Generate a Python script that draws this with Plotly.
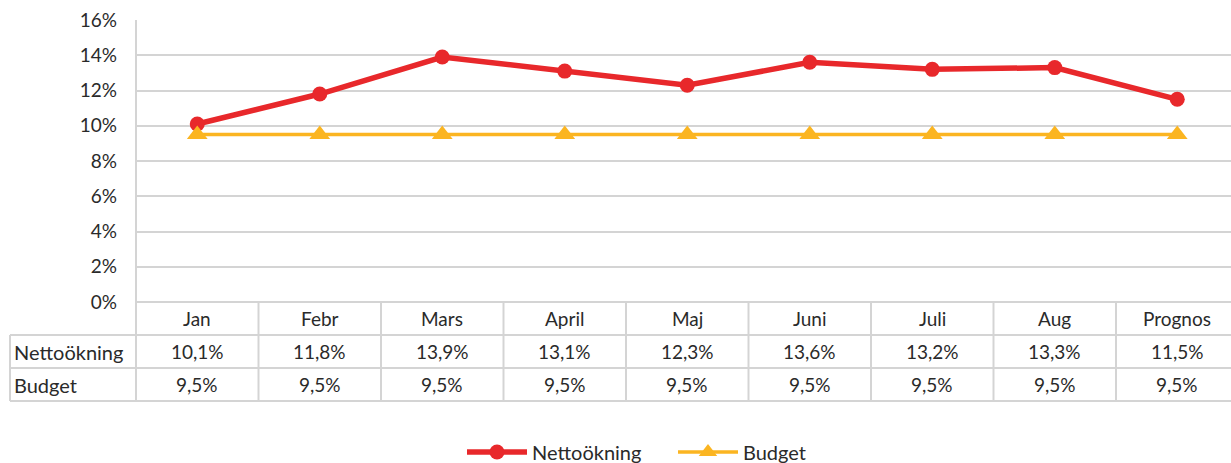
import plotly.graph_objects as go

categories = ["Jan", "Febr", "Mars", "April", "Maj", "Juni", "Juli", "Aug", "Prognos"]
netto = [10.1, 11.8, 13.9, 13.1, 12.3, 13.6, 13.2, 13.3, 11.5]
budget = [9.5, 9.5, 9.5, 9.5, 9.5, 9.5, 9.5, 9.5, 9.5]
y_ticks = [0, 2, 4, 6, 8, 10, 12, 14, 16]
series_names = ["Nettoökning", "Budget"]

W, H = 1231, 463
ML, MR, MT, MB = 136, 0, 20, 161
plot_w = W - ML - MR
plot_h = H - MT - MB
band = 122.5  # px per category
x_range = [-0.5, -0.5 + plot_w / band]

RED = "#e8282b"
YEL = "#fbb521"
GRID = "#d4d4d4"
TXT = "#2a2a2a"
FONT = "Lato"
FS = 19
FS_LBL = 20

def fmt(v):
    return f"{v:.1f}%".replace(".", ",")

xs = list(range(len(categories)))

fig = go.Figure()
fig.add_trace(go.Scatter(
    x=xs, y=netto, name=series_names[0], mode="lines+markers",
    line=dict(color=RED, width=5.5), marker=dict(symbol="circle", size=15, color=RED),
))
fig.add_trace(go.Scatter(
    x=xs, y=budget, name=series_names[1], mode="lines+markers",
    line=dict(color=YEL, width=3.5), marker=dict(symbol="triangle-up", size=18, color=YEL),
))

def py(px):
    return (MT + plot_h - px) / plot_h

def pxx(px):
    return (px - ML) / plot_w

row_lines = [py(302), py(335), py(368), py(401)]
row_centers = [py(318.5), py(351.5), py(384.5)]
left_paper = pxx(10)

shapes = []
# horizontal table lines
for i, yl in enumerate(row_lines):
    x0 = 0 if i == 0 else left_paper
    shapes.append(dict(type="line", xref="paper", yref="paper", x0=x0, x1=1.01,
                       y0=yl, y1=yl, line=dict(color=GRID, width=2), layer="below"))
# vertical lines at category boundaries
for i in range(len(categories) - 1):
    xb = i + 0.5
    shapes.append(dict(type="line", xref="x", yref="paper", x0=xb, x1=xb,
                       y0=row_lines[0], y1=row_lines[3], line=dict(color=GRID, width=2), layer="below"))
# left axis line extended through table
shapes.append(dict(type="line", xref="paper", yref="paper", x0=0, x1=0,
                   y0=1, y1=row_lines[3], line=dict(color=GRID, width=2), layer="below"))
# outer left border
shapes.append(dict(type="line", xref="paper", yref="paper", x0=left_paper, x1=left_paper,
                   y0=row_lines[1], y1=row_lines[3], line=dict(color=GRID, width=2), layer="below"))

annotations = []
for i, c in enumerate(categories):
    for r, txt in enumerate([c, fmt(netto[i]), fmt(budget[i])]):
        annotations.append(dict(x=i, y=row_centers[r], xref="x", yref="paper", text=txt,
                                yanchor="middle", xanchor="center",
                                showarrow=False, font=dict(size=FS, color=TXT, family=FONT)))
for r, name in enumerate(series_names):
    annotations.append(dict(x=left_paper, y=row_centers[r + 1], xref="paper", yref="paper", text=name,
                            xanchor="left", yanchor="middle", xshift=2, showarrow=False,
                            font=dict(size=FS_LBL, color=TXT, family=FONT)))

fig.update_layout(
    width=W, height=H,
    margin=dict(l=ML, r=MR, t=MT, b=MB, pad=0, autoexpand=False),
    paper_bgcolor="white", plot_bgcolor="white",
    font=dict(family=FONT, color=TXT, size=FS),
    showlegend=True,
    legend=dict(orientation="h", x=pxx(462), xanchor="left",
                y=py(452), yanchor="middle", font=dict(size=FS_LBL, color=TXT, family=FONT),
                itemwidth=60, entrywidth=136, entrywidthmode="pixels", traceorder="normal"),
    xaxis=dict(range=x_range, showgrid=False, showticklabels=False, zeroline=False,
               showline=False, fixedrange=True),
    yaxis=dict(range=[0, 16], tickvals=y_ticks, ticktext=[f"{v}%" for v in y_ticks],
               showgrid=True, gridcolor=GRID, gridwidth=2, zeroline=False, showline=False,
               ticks="", ticklabelstandoff=18, tickfont=dict(size=FS, color=TXT, family=FONT)),
    shapes=shapes, annotations=annotations,
)

fig.write_html("out.html", config={"displayModeBar": False},
               post_script="document.body.style.margin='0';")
